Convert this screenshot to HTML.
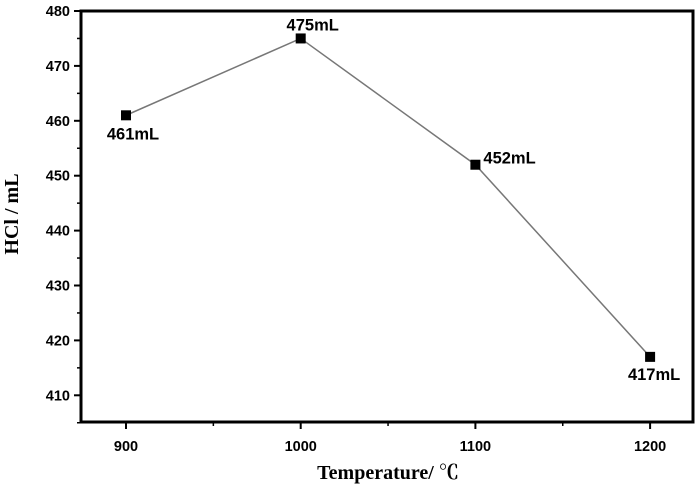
<!DOCTYPE html>
<html><head><meta charset="utf-8"><style>
body{margin:0;background:#fff;}
svg text{font-family:"Liberation Sans",Arial,sans-serif;}
</style></head><body>
<svg id="chart" width="700" height="493" viewBox="0 0 700 493" xmlns="http://www.w3.org/2000/svg">
<rect x="81" y="11" width="612" height="411" fill="none" stroke="#000" stroke-width="3"/>
<g id="axes"></g>
<g id="series"></g>
<text x="18" y="214" transform="rotate(-90 18 214)" text-anchor="middle" font-weight="bold" font-size="20" style="font-family:'Liberation Serif',serif">HCl / mL</text>
<text x="388" y="479" text-anchor="middle" font-weight="bold" font-size="20" style="font-family:'Liberation Serif','Noto Serif CJK SC',serif">Temperature/ ℃</text>
</svg>
<script>
const categories=[900,1000,1100,1200];
const values=[461,475,452,417];
const labels=["461mL","475mL","452mL","417mL"];
const yTicks=[410,420,430,440,450,460,470,480];
const xTicks=[900,1000,1100,1200];
const NS="http://www.w3.org/2000/svg";
function xs(v){return 126+(v-900)*1.747;}
function ys(v){return 11+(480-v)*5.49;}
function mk(t,a,p){const e=document.createElementNS(NS,t);for(const k in a)e.setAttribute(k,a[k]);p.appendChild(e);return e;}
const ax=document.getElementById('axes'),se=document.getElementById('series');
yTicks.forEach(v=>{
 const l=mk('line',{x1:74,x2:81,y1:ys(v),y2:ys(v),stroke:'#000','stroke-width':2},ax);
 
 
 const m=mk('line',{x1:77,x2:81,y1:ys(v-5),y2:ys(v-5),stroke:'#000','stroke-width':1.5},ax);
 
 
 const t=mk('text',{x:70,y:ys(v)+5,'text-anchor':'end','font-size':14.5,'font-weight':'bold'},ax);
 t.textContent=v;
 
 
});
xTicks.forEach((v,i)=>{
 const l=mk('line',{x1:xs(v),x2:xs(v),y1:422,y2:429,stroke:'#000','stroke-width':2},ax);
 
 
 if(i<xTicks.length-1){const m=mk('line',{x1:xs(v+50),x2:xs(v+50),y1:422,y2:426,stroke:'#000','stroke-width':1.5},ax);
 
 }
 const t=mk('text',{x:xs(v),y:451,'text-anchor':'middle','font-size':14.5,'font-weight':'bold'},ax);
 t.textContent=v;
 
 
});
const pl=mk('polyline',{points:categories.map((c,i)=>xs(c)+','+ys(values[i])).join(' '),fill:'none',stroke:'#777','stroke-width':1.5},se);


const off=[[7,24],[12,-8],[8,-1],[4,23]];
const anc=['middle','middle','start','middle'];
categories.forEach((c,i)=>{
 const r=mk('rect',{x:xs(c)-5,y:ys(values[i])-5,width:10,height:10,fill:'#000'},se);
 
 
 const t=mk('text',{x:xs(c)+off[i][0],y:ys(values[i])+off[i][1],'text-anchor':anc[i],'font-size':16.5,'font-weight':'bold'},se);
 t.textContent=labels[i];
 
 
});
</script>
</body></html>
